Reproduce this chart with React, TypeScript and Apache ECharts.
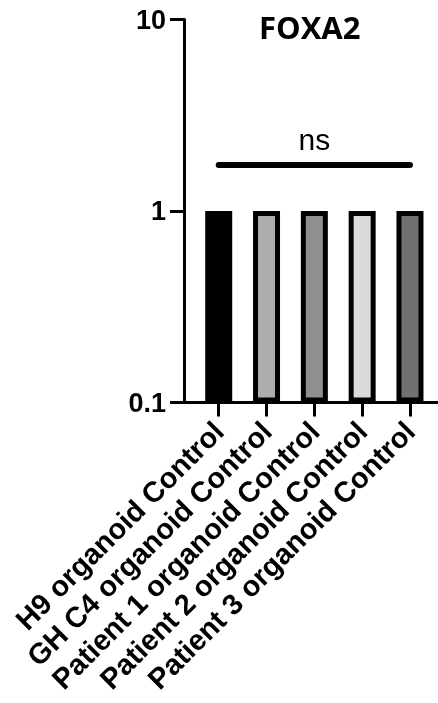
import React, { useEffect, useRef } from "react";
import * as echarts from "echarts";

const categories = [
  "H9 organoid Control",
  "GH C4 organoid Control",
  "Patient 1 organoid Control",
  "Patient 2 organoid Control",
  "Patient 3 organoid Control",
];
const values = [1, 1, 1, 1, 1];
const barColors = ["#000000", "#adadad", "#8f8f8f", "#dadada", "#717171"];
const yTickValues = [0.1, 1, 10];
const chartTitle = "FOXA2";
const sigLabel = "ns";
const sigLevel = 1.74;

export default function App() {
  const ref = useRef<HTMLDivElement>(null);
  useEffect(() => {
    if (!ref.current) return;
    const chart = echarts.init(ref.current, null, { renderer: "svg" });
    const positions = categories.map((_, i) => i);
    chart.setOption({
      animation: false,
      title: {
        text: chartTitle,
        left: 254,
        top: 6,
        textStyle: { fontFamily: "Open Sans", fontWeight: "bold", fontSize: 31, color: "#000" },
      },
      grid: { left: 184, right: 0, top: 19.5, bottom: 300.5, containLabel: false },
      xAxis: {
        type: "value",
        min: -0.726,
        max: 4.586,
        splitLine: { show: false },
        axisLine: { show: true, onZero: false, lineStyle: { color: "#000", width: 3 } },
        axisTick: { show: true, customValues: positions, length: 14, lineStyle: { color: "#000", width: 3 } },
        axisLabel: {
          customValues: positions,
          formatter: (v: number) => categories[Math.round(v)] ?? "",
          rotate: 45,
          margin: 24,
          fontSize: 29,
          fontWeight: "bold",
          fontFamily: "Liberation Sans",
          color: "#000",
        },
      },
      yAxis: {
        type: "log",
        logBase: 10,
        min: yTickValues[0],
        max: yTickValues[yTickValues.length - 1],
        startValue: yTickValues[0],
        splitLine: { show: false },
        minorTick: { show: false },
        axisLine: { show: true, onZero: false, lineStyle: { color: "#000", width: 3 } },
        axisTick: { show: true, length: 14, lineStyle: { color: "#000", width: 3 } },
        axisLabel: {
          formatter: (v: number) => String(v),
          margin: 18,
          fontSize: 27,
          fontWeight: "bold",
          fontFamily: "Liberation Sans",
          color: "#000",
        },
      },
      series: [
        {
          type: "bar",
          barWidth: 27,
          data: values.map((v, i) => ({ value: [i, v], itemStyle: { color: barColors[i] } })),
          itemStyle: { borderColor: "#000", borderWidth: 5 },
          markLine: {
            silent: true,
            symbol: ["none", "none"],
            lineStyle: { color: "#000", width: 6, type: "solid", cap: "round" },
            label: {
              show: true,
              position: "middle",
              formatter: sigLabel,
              fontSize: 30,
              fontFamily: "Liberation Sans",
              color: "#000",
              distance: 10,
            },
            data: [[{ coord: [0, sigLevel] }, { coord: [categories.length - 1, sigLevel] }]],
          },
        },
      ],
    });
    return () => chart.dispose();
  }, []);
  return <div ref={ref} style={{ position: "fixed", left: 0, top: 0, width: 438, height: 703 }} />;
}
